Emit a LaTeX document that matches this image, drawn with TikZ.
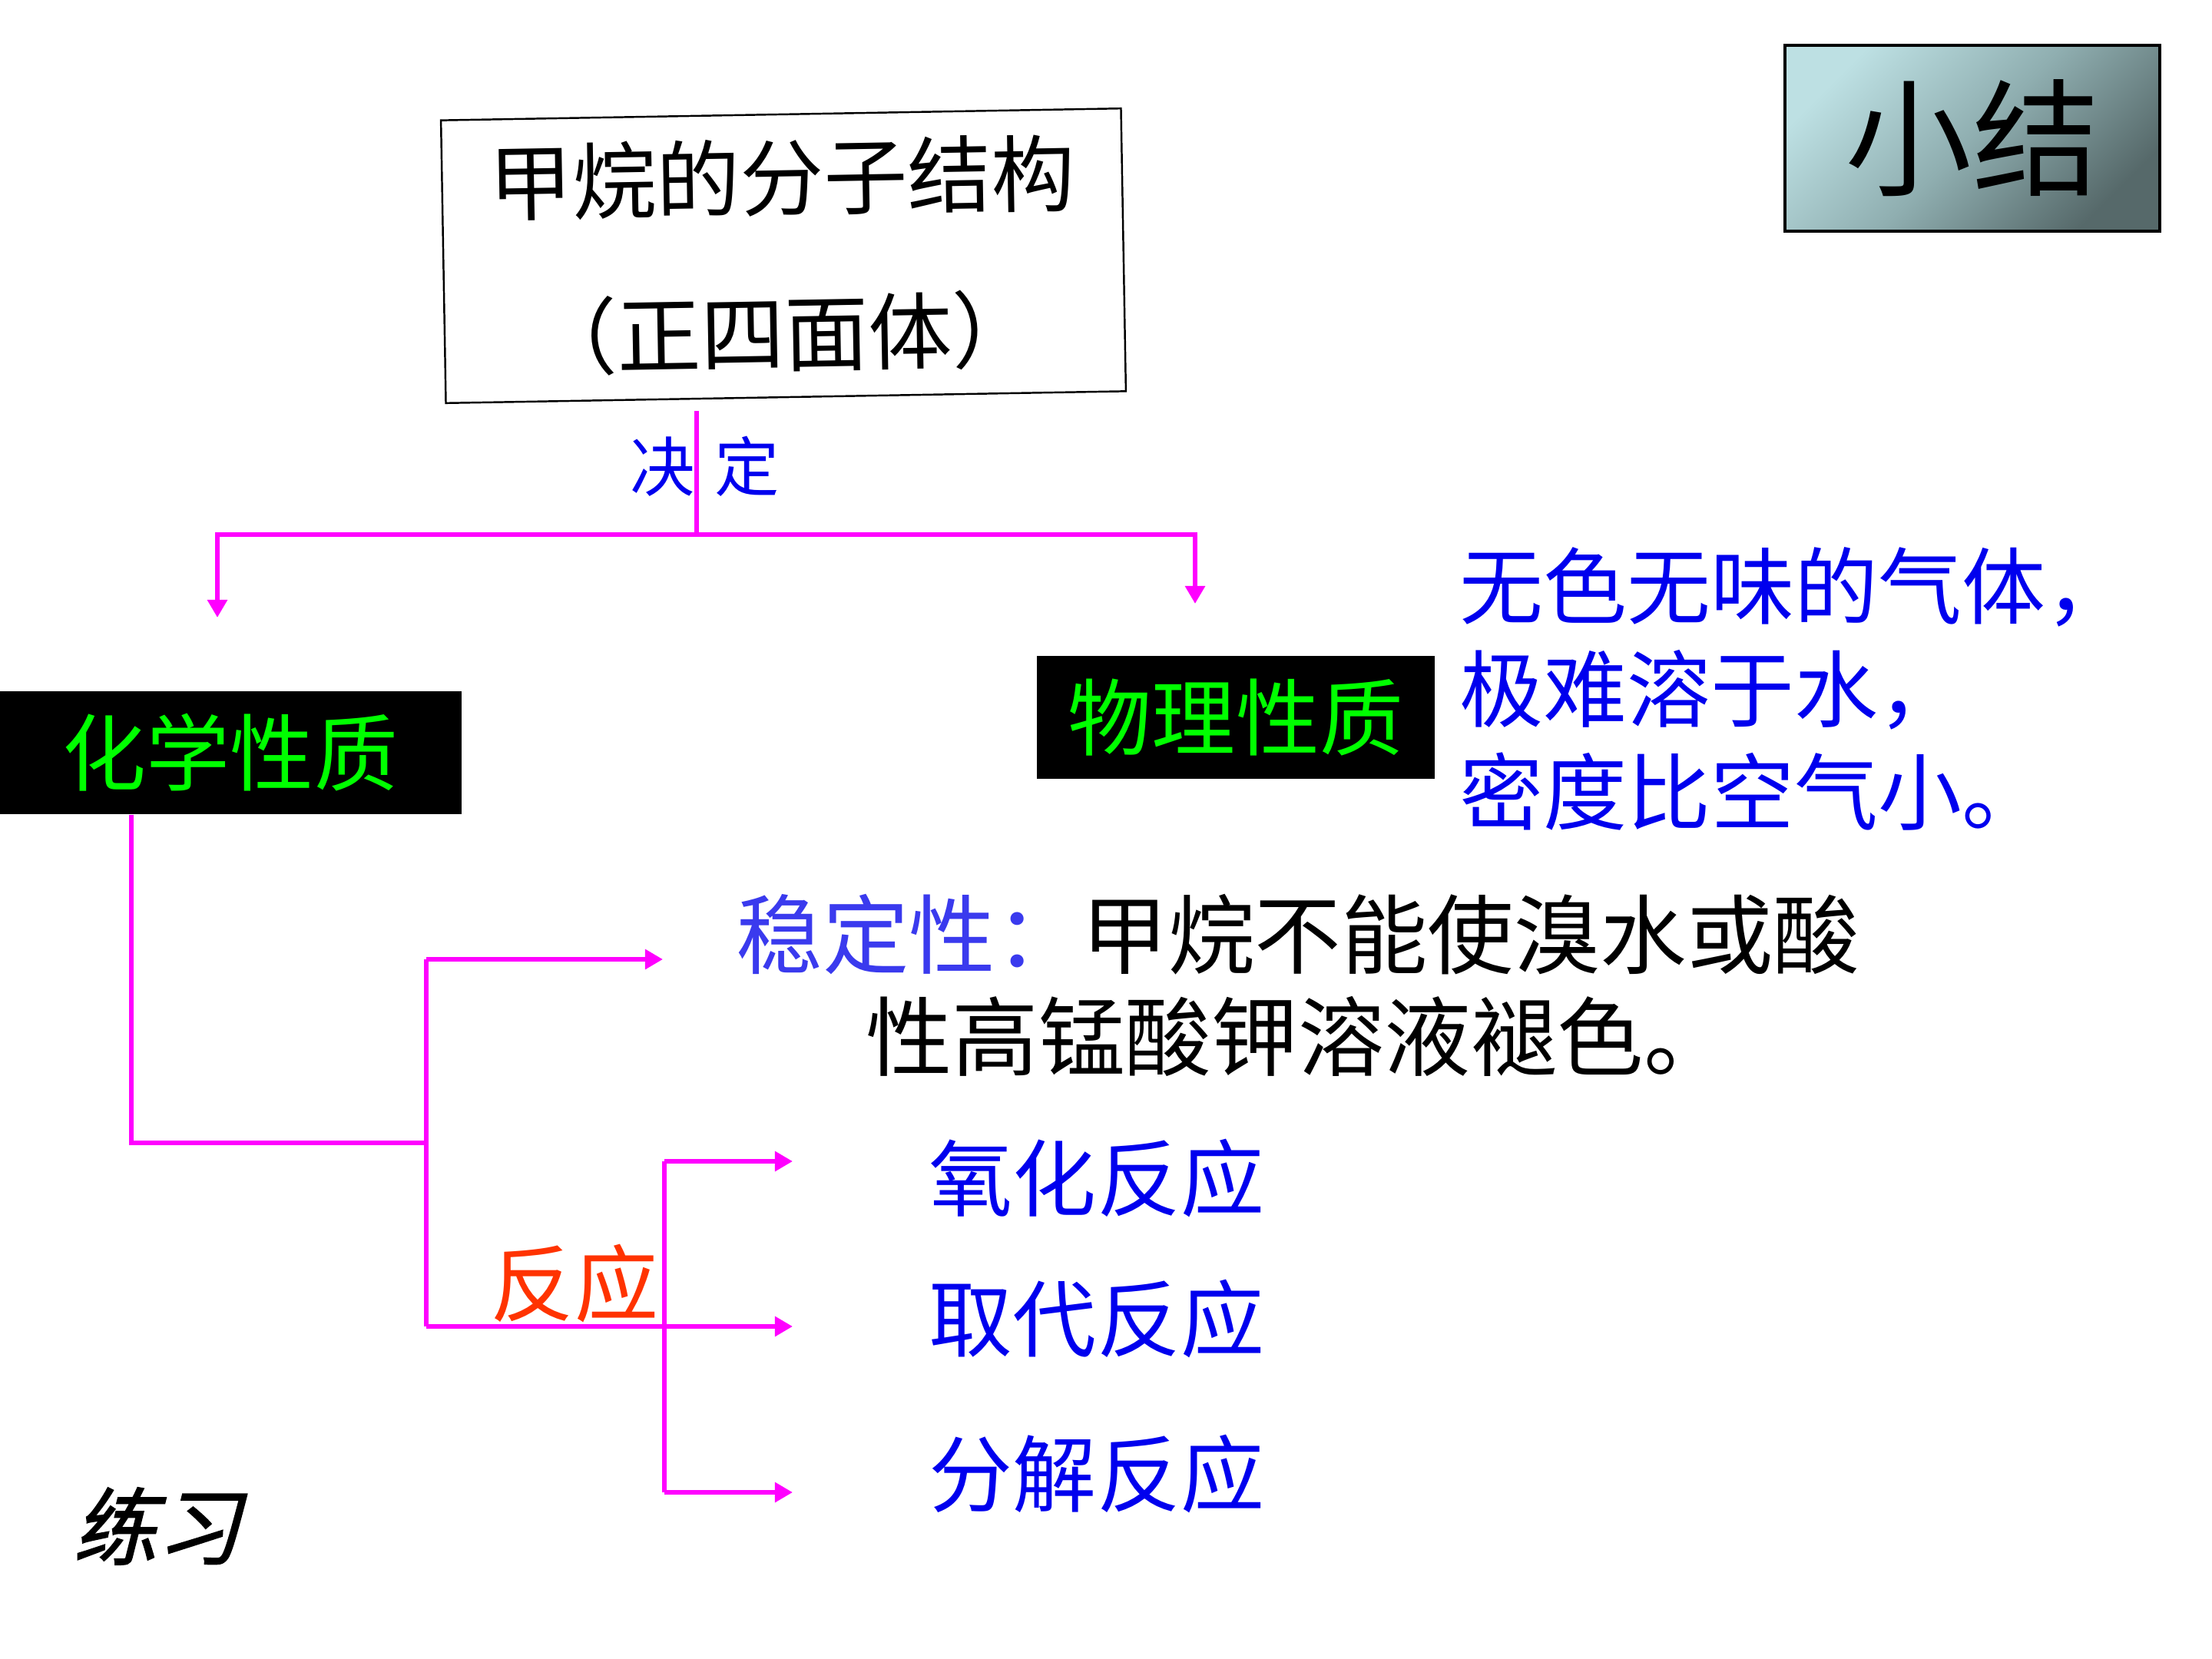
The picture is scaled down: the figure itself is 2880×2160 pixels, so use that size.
\documentclass[tikz,border=0pt]{standalone}
\usepackage{fontspec}
\setmainfont{Noto Sans CJK SC}
\newfontfamily\slantcjk[FakeSlant=0.25,FakeBold=1.5]{Noto Sans CJK SC}
\usepackage{tikz}
\usetikzlibrary{arrows.meta,positioning}
\definecolor{linkpink}{HTML}{FF00FF}
\definecolor{textblue}{HTML}{0000EE}
\definecolor{stabblue}{HTML}{3A3AEE}
\definecolor{propgreen}{HTML}{00FF00}
\definecolor{reactred}{HTML}{FF3300}
\definecolor{tealhi}{HTML}{BDE0E3}
\definecolor{tealmid}{HTML}{8FAEB0}
\definecolor{teallo}{HTML}{56696A}
\newcommand{\bigcjk}{\fontsize{31}{38}\selectfont}

\begin{document}
\begin{tikzpicture}[
    x=0.01cm, y=-0.01cm,
    conn/.style={draw=linkpink, line width=1.7pt},
    arr/.style={conn, -{Triangle[length=0.23cm,width=0.25cm]}},
    title/.style={draw, line width=0.7pt, minimum width=8.85cm, minimum height=3.68cm, align=center, font=\fontsize{31}{57.5}\selectfont},
    propbox/.style={fill=black, text=propgreen, minimum height=1.6cm, inner sep=0pt, font=\bigcjk},
    plain/.style={inner sep=0pt, font=\bigcjk},
    reaction/.style={plain, text=textblue},
]
\useasboundingbox (0,0) rectangle (2880,2160);

\node[title, rotate=1] (struct) at (1020,333) {甲烷的分子结构\\（正四面体）};
\node[draw, line width=1.2pt, minimum width=4.87cm, minimum height=2.42cm,
      top color=tealhi, bottom color=teallo, middle color=tealmid, shading angle=45,
      font=\fontsize{47}{50}\selectfont] (summary) at (2568,180) {小结};

\node[propbox, minimum width=6.01cm] (chem) at (300,980) {化学性质};
\node[propbox, minimum width=5.18cm] (phys) at (1609,934) {物理性质};
\node[plain, text=textblue, align=left, anchor=west] (physnote) at (1900,897)
    {无色无味的气体，\\极难溶于水，\\密度比空气小。};

\node[inner sep=0pt, align=center, font=\fontsize{32}{38}\selectfont] (stab) at (1690,1283)
    {{\color{stabblue}稳定性：}甲烷不能使溴水或酸\\性高锰酸钾溶液褪色。};
\node[plain, text=reactred] (react) at (748,1671) {反应};
\node[reaction] (oxid) at (1428,1534) {氧化反应};
\node[reaction] (subst) at (1428,1717) {取代反应};
\node[reaction] (decomp) at (1428,1919) {分解反应};
\node[inner sep=0pt, font=\slantcjk\fontsize{31}{38}\selectfont] (practice) at (204,1987) {练习};

% branch points and arrow ends
\coordinate (fork) at (907,696);
\coordinate (chemtip) at (283,804);
\coordinate (phystip) at (1556,786);
\coordinate (bend) at (171,1488);
\coordinate (trunk) at (555,1488);
\coordinate (stabfork) at (555,1249);
\coordinate (reactfork) at (555,1727);
\coordinate (stabtip) at (863,1249);
\coordinate (substtip) at (1032,1727);
\coordinate (oxfork) at (865,1512);
\coordinate (decfork) at (865,1943);
\coordinate (oxtip) at (1032,1512);
\coordinate (dectip) at (1032,1943);

\draw[conn, shorten <=0.17cm] (struct.south -| fork) -- node[text=textblue, fill=none, font=\fontsize{24}{26}\selectfont, xshift=0.11cm] (decide) {决\hspace{0.3em}定} (fork);
\draw[arr] (fork) -| (chemtip);
\draw[arr] (fork) -| (phystip);

\draw[conn] (chem.south -| bend) -- (bend) -- (trunk);
\draw[conn] (stabfork) -- (reactfork);
\draw[arr] (stabfork) -- (stabtip);
\draw[arr] (reactfork) -- (substtip);
\draw[conn] (oxfork) -- (decfork);
\draw[arr] (oxfork) -- (oxtip);
\draw[arr] (decfork) -- (dectip);
\end{tikzpicture}
\end{document}
